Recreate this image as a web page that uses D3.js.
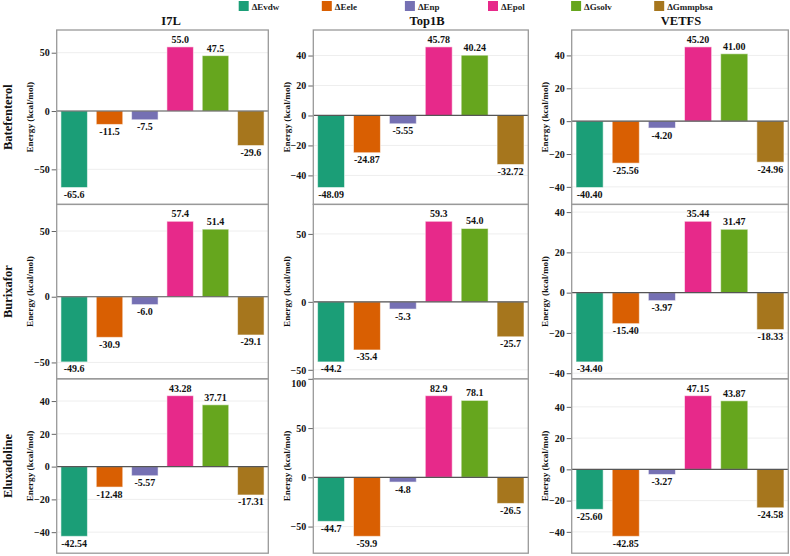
<!DOCTYPE html>
<html><head><meta charset="utf-8">
<script src="https://cdn.jsdelivr.net/npm/d3@7"></script>
<style>
body{margin:0;background:#fff;}
svg{display:block;font-family:"Liberation Serif","Times New Roman",serif;font-weight:bold;}
</style></head>
<body><svg id="c" width="790" height="556"></svg>
<script>
const terms = ["ΔEvdw","ΔEele","ΔEnp","ΔEpol","ΔGsolv","ΔGmmpbsa"];
const targets = ["I7L","Top1B","VETFS"];
const drugs = ["Batefenterol","Burixafor","Eluxadoline"];
const colors = ["#1b9e77","#d95f02","#7570b3","#e7298a","#66a61e","#a6761d"];

// values[drug][target] = six terms
const batefenterol = [
  [-65.6, -11.5, -7.5, 55.0, 47.5, -29.6],
  [-48.09, -24.87, -5.55, 45.78, 40.24, -32.72],
  [-40.40, -25.56, -4.20, 45.20, 41.00, -24.96]
];
const burixafor = [
  [-49.6, -30.9, -6.0, 57.4, 51.4, -29.1],
  [-44.2, -35.4, -5.3, 59.3, 54.0, -25.7],
  [-34.40, -15.40, -3.97, 35.44, 31.47, -18.33]
];
const eluxadoline = [
  [-42.54, -12.48, -5.57, 43.28, 37.71, -17.31],
  [-44.7, -59.9, -4.8, 82.9, 78.1, -26.5],
  [-25.60, -42.85, -3.27, 47.15, 43.87, -24.58]
];
const values = [batefenterol, burixafor, eluxadoline];
// decimals shown in labels
const decimals = [[1,2,2],[1,1,2],[2,1,2]];
// y tick values per panel
const ticks = [
  [[-50,0,50],[-40,-20,0,20,40],[-40,-20,0,20,40]],
  [[-50,0,50],[-50,0,50],[-40,-20,0,20,40]],
  [[-40,-20,0,20,40],[-50,0,50,100],[-40,-20,0,20,40]]
];

const svg = d3.select("#c");
const colLeft = [56.7, 313.3, 571.7];
const colWidth = [211.6, 215, 216.6];
const titleX = [171, 427, 681];
const top0 = 30, ph = 174.4;

// legend
const leg = svg.append("g");
terms.forEach((t,i)=>{
  const x = 238.7 + i*83.1;
  leg.append("rect").attr("x",x).attr("y",1).attr("width",10).attr("height",10).attr("fill",colors[i]);
  leg.append("text").attr("x",x+13).attr("y",10).attr("font-size",9).attr("fill","#222").text(t);
});

// column titles
targets.forEach((t,c)=>{
  svg.append("text").attr("x",titleX[c]).attr("y",24.5).attr("text-anchor","middle")
    .attr("font-size",12.5).attr("fill","#111").text(t);
});

drugs.forEach((d,r)=>{
  const y0 = top0 + r*ph;
  svg.append("text").attr("transform",`translate(12,${y0+ph/2}) rotate(-90)`)
    .attr("text-anchor","middle").attr("font-size",12.5).attr("fill","#111").text(d);
  targets.forEach((t,c)=>{
    const vals = values[r][c];
    const mn = d3.min(vals), mx = d3.max(vals), span = mx - mn;
    const y = d3.scaleLinear().domain([mn - 0.12*span, mx + 0.12*span]).range([y0+ph, y0]);
    const x = d3.scaleBand().domain(terms).range([colLeft[c], colLeft[c]+colWidth[c]])
      .paddingInner(0.25).paddingOuter(0.12);
    const g = svg.append("g");
    // grid
    g.selectAll("line.grid").data(ticks[r][c]).enter().append("line")
      .attr("x1",colLeft[c]).attr("x2",colLeft[c]+colWidth[c])
      .attr("y1",v=>y(v)).attr("y2",v=>y(v)).attr("stroke","#eeeeee").attr("stroke-width",1);
    // bars
    g.selectAll("rect.bar").data(vals).enter().append("rect")
      .attr("x",(v,i)=>x(terms[i])).attr("width",x.bandwidth())
      .attr("y",v=>Math.min(y(v),y(0))).attr("height",v=>Math.abs(y(v)-y(0)))
      .attr("fill",(v,i)=>colors[i]).attr("stroke","#fff").attr("stroke-opacity",0.55).attr("stroke-width",1);
    // zero line
    g.append("line").attr("x1",colLeft[c]).attr("x2",colLeft[c]+colWidth[c])
      .attr("y1",y(0)).attr("y2",y(0)).attr("stroke","#555").attr("stroke-width",1.2);
    // labels
    g.selectAll("text.val").data(vals).enter().append("text")
      .attr("x",(v,i)=>x(terms[i])+x.bandwidth()/2)
      .attr("y",v=> v>=0 ? y(v)-4 : y(v)+10.5)
      .attr("text-anchor","middle").attr("font-size",10).attr("fill","#111")
      .text(v=>v.toFixed(decimals[r][c]));
    // axis
    const ax = g.append("g").attr("transform",`translate(${colLeft[c]},0)`)
      .call(d3.axisLeft(y).tickValues(ticks[r][c]).tickSize(5).tickPadding(2).tickFormat(d3.format("d")));
    ax.select(".domain").remove();
    ax.selectAll(".tick line").attr("stroke","#666");
    ax.selectAll(".tick text").attr("font-size",10).attr("font-family","Liberation Serif, serif")
      .attr("font-weight","bold").attr("fill","#111")
      .attr("dy", v => (y(v) - y0 < 5) ? "0.8em" : "0.32em");
    // axis title
    g.append("text").attr("transform",`translate(${colLeft[c]-27},${y0+ph/2}) rotate(-90)`)
      .attr("text-anchor","middle").attr("dy","0.35em").attr("font-size",9.2).attr("fill","#111")
      .text("Energy (kcal/mol)");
    // frame
    g.append("rect").attr("x",colLeft[c]).attr("y",y0).attr("width",colWidth[c]).attr("height",ph)
      .attr("fill","none").attr("stroke","#999").attr("stroke-width",1.3);
  });
});
</script></body></html>
